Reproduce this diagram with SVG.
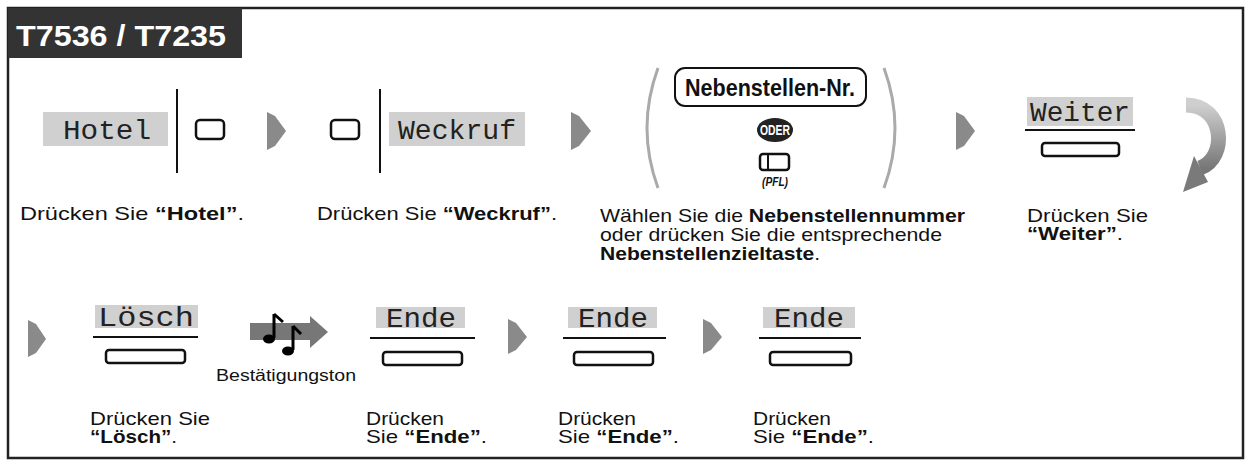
<svg xmlns="http://www.w3.org/2000/svg" width="1251" height="464" viewBox="0 0 1251 464">
<defs>
<style>
.d{font-family:"Liberation Sans",Arial,sans-serif;font-size:19px;fill:#111}
.b{font-weight:bold}
.m{font-family:"Liberation Mono","Courier New",monospace;font-size:27px;fill:#222}
.lbl{fill:#d0d0d0}
.key{fill:#fff;stroke:#111;stroke-width:2.5}
.arr{fill:#8a8a8a}
.ln{stroke:#111;stroke-width:2}
</style>
<linearGradient id="cg" x1="0" y1="0" x2="0" y2="1"><stop offset="0" stop-color="#cfcfcf"/><stop offset="1" stop-color="#777"/></linearGradient>
</defs>
<rect x="0" y="0" width="1251" height="464" fill="#fff"/>
<rect x="8" y="8" width="1235" height="450" fill="none" stroke="#222" stroke-width="2.5"/>
<rect x="8" y="8" width="234" height="50" fill="#333"/>
<text x="16" y="46" font-family="Liberation Sans,Arial,sans-serif" font-weight="bold" font-size="30" fill="#fff" textLength="210" lengthAdjust="spacingAndGlyphs">T7536 / T7235</text>

<g id="connectors">
<polygon class="arr" points="267,112 275,116 286,131 275,146 267,150"/>
<polygon class="arr" points="571,112 579,116 591,131 579,146 571,150"/>
<polygon class="arr" points="956,112 964,116 975,131 964,146 956,150"/>
<polygon class="arr" points="28,320 36,324 46,339 36,353 28,357"/>
<polygon class="arr" points="508,319 516,323 527,337 516,350 508,354"/>
<polygon class="arr" points="703,319 711,323 722,337 711,350 703,354"/>
<g id="curve">
<path d="M1186,105 C1225,105 1228,158 1200,168" fill="none" stroke="url(#cg)" stroke-width="15"/>
<polygon points="1194,156 1208,182 1183,192" fill="#7a7a7a"/>
</g>
<g id="tone">
<polygon points="250,323 310,323 310,316 328,332 310,348 310,340 250,340" fill="#777"/>
<path d="M274,314 L274,338 M274,314 L283,322" stroke="#000" stroke-width="3" fill="none"/>
<ellipse cx="269" cy="339" rx="6" ry="4.5" fill="#000"/>
<path d="M293,326 L293,350 M293,326 L301,334" stroke="#000" stroke-width="3" fill="none"/>
<ellipse cx="288" cy="351" rx="6" ry="4.5" fill="#000"/>
</g>
</g>

<g id="hotel">
<rect class="lbl" x="43" y="112" width="125" height="34"/>
<text class="m" x="63" y="139" textLength="88" lengthAdjust="spacingAndGlyphs">Hotel</text>
<line class="ln" x1="177" y1="89" x2="177" y2="173" stroke-width="2.5"/>
<rect class="key" x="196" y="120" width="28" height="19" rx="4"/>
<text class="d" x="20" y="220" textLength="224" lengthAdjust="spacingAndGlyphs">Drücken Sie <tspan class="b">“Hotel”</tspan>.</text>
</g>

<g id="weckruf">
<rect class="key" x="331" y="120" width="28" height="19" rx="4"/>
<line class="ln" x1="380" y1="89" x2="380" y2="173" stroke-width="2.5"/>
<rect class="lbl" x="389" y="112" width="136" height="34"/>
<text class="m" x="398" y="139" textLength="118" lengthAdjust="spacingAndGlyphs">Weckruf</text>
<text class="d" x="317" y="220" textLength="240" lengthAdjust="spacingAndGlyphs">Drücken Sie <tspan class="b">“Weckruf”</tspan>.</text>
</g>

<g id="nebenstelle">
<path d="M658,68 Q636,128 658,188" fill="none" stroke="#aaa" stroke-width="3"/>
<path d="M884,68 Q906,128 884,188" fill="none" stroke="#aaa" stroke-width="3"/>
<rect x="675" y="68" width="191" height="38" rx="10" fill="#fff" stroke="#111" stroke-width="2"/>
<text x="770" y="96" text-anchor="middle" font-family="Liberation Sans,Arial,sans-serif" font-weight="bold" font-size="23" fill="#111" textLength="170" lengthAdjust="spacingAndGlyphs">Nebenstellen-Nr.</text>
<ellipse cx="775" cy="130" rx="18" ry="12" fill="#222"/>
<text x="775" y="135" text-anchor="middle" font-family="Liberation Sans,Arial,sans-serif" font-weight="bold" font-size="14" fill="#fff" textLength="30" lengthAdjust="spacingAndGlyphs">ODER</text>
<rect class="key" x="760" y="154" width="29" height="16" rx="3"/>
<line class="ln" x1="768" y1="154" x2="768" y2="170"/>
<text x="775" y="186" text-anchor="middle" font-family="Liberation Sans,Arial,sans-serif" font-weight="bold" font-style="italic" font-size="13" fill="#111" textLength="26" lengthAdjust="spacingAndGlyphs">(PFL)</text>
<text class="d" x="600" y="222" textLength="365" lengthAdjust="spacingAndGlyphs">Wählen Sie die <tspan class="b">Nebenstellennummer</tspan></text>
<text class="d" x="600" y="241" textLength="342" lengthAdjust="spacingAndGlyphs">oder drücken Sie die entsprechende</text>
<text class="d" x="600" y="260" textLength="220" lengthAdjust="spacingAndGlyphs"><tspan class="b">Nebenstellenzieltaste</tspan>.</text>
</g>

<g id="weiter">
<rect class="lbl" x="1027" y="97" width="106" height="29"/>
<text class="m" x="1030" y="121" textLength="100" lengthAdjust="spacingAndGlyphs">Weiter</text>
<line class="ln" x1="1025" y1="130" x2="1135" y2="130"/>
<rect class="key" x="1042" y="143" width="77" height="13" rx="3"/>
<text class="d" x="1027" y="222" textLength="121" lengthAdjust="spacingAndGlyphs">Drücken Sie</text>
<text class="d" x="1027" y="240" textLength="96" lengthAdjust="spacingAndGlyphs"><tspan class="b">“Weiter”</tspan>.</text>
</g>

<g id="loesch">
<rect class="lbl" x="95" y="305" width="103" height="23"/>
<text class="m" x="98" y="326" textLength="96" lengthAdjust="spacingAndGlyphs">Lösch</text>
<line class="ln" x1="93" y1="337" x2="198" y2="337"/>
<rect class="key" x="106" y="350" width="79" height="13" rx="3"/>
<text class="d" x="90" y="425" textLength="120" lengthAdjust="spacingAndGlyphs">Drücken Sie</text>
<text class="d" x="90" y="443" textLength="87" lengthAdjust="spacingAndGlyphs"><tspan class="b">“Lösch”</tspan>.</text>
</g>
<text id="tonlabel" x="216" y="381" font-family="Liberation Sans,Arial,sans-serif" font-size="16" fill="#111" textLength="140" lengthAdjust="spacingAndGlyphs">Bestätigungston</text>

<g id="ende1">
<rect class="lbl" x="376" y="307" width="89" height="21"/>
<text class="m" x="386" y="327" textLength="70" lengthAdjust="spacingAndGlyphs">Ende</text>
<line class="ln" x1="370" y1="338" x2="475" y2="338"/>
<rect class="key" x="383" y="352" width="79" height="13" rx="3"/>
<text class="d" x="366" y="425" textLength="78" lengthAdjust="spacingAndGlyphs">Drücken</text>
<text class="d" x="366" y="443" textLength="121" lengthAdjust="spacingAndGlyphs">Sie <tspan class="b">“Ende”</tspan>.</text>
</g>
<g id="ende2">
<rect class="lbl" x="568" y="307" width="89" height="21"/>
<text class="m" x="578" y="327" textLength="70" lengthAdjust="spacingAndGlyphs">Ende</text>
<line class="ln" x1="563" y1="338" x2="666" y2="338"/>
<rect class="key" x="574" y="352" width="79" height="13" rx="3"/>
<text class="d" x="558" y="425" textLength="78" lengthAdjust="spacingAndGlyphs">Drücken</text>
<text class="d" x="558" y="443" textLength="121" lengthAdjust="spacingAndGlyphs">Sie <tspan class="b">“Ende”</tspan>.</text>
</g>
<g id="ende3">
<rect class="lbl" x="763" y="307" width="92" height="21"/>
<text class="m" x="774" y="327" textLength="70" lengthAdjust="spacingAndGlyphs">Ende</text>
<line class="ln" x1="759" y1="338" x2="861" y2="338"/>
<rect class="key" x="770" y="352" width="81" height="13" rx="3"/>
<text class="d" x="753" y="425" textLength="78" lengthAdjust="spacingAndGlyphs">Drücken</text>
<text class="d" x="753" y="443" textLength="121" lengthAdjust="spacingAndGlyphs">Sie <tspan class="b">“Ende”</tspan>.</text>
</g>
</svg>
